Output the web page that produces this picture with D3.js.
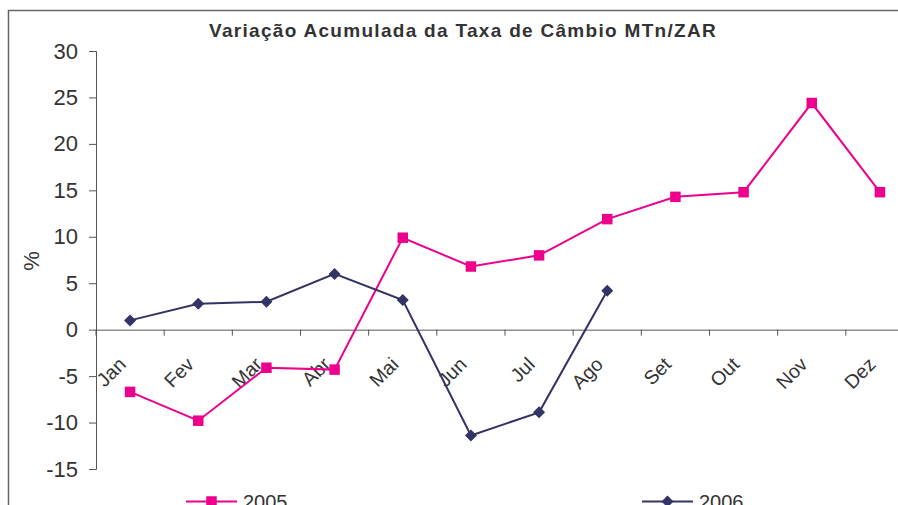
<!DOCTYPE html>
<html><head><meta charset="utf-8">
<script src="https://cdn.jsdelivr.net/npm/d3@7"></script>
<style>body{margin:0;background:#fff}svg{display:block;font-family:"Liberation Sans",Arial,sans-serif}</style>
</head><body>
<script>
const months = ["Jan","Fev","Mar","Abr","Mai","Jun","Jul","Ago","Set","Out","Nov","Dez"];
const values2005 = [-6.7,-9.8,-4.1,-4.3,9.9,6.8,8.0,11.9,14.3,14.8,24.4,14.8];
const values2006 = [1.0,2.8,3.0,6.0,3.2,-11.4,-8.9,4.2];
const yTicks = [-15,-10,-5,0,5,10,15,20,25,30];
const seriesNames = ["2005","2006"];
const title = "Variação Acumulada da Taxa de Câmbio MTn/ZAR";

(function(){
const W=898,H=505;
const svg=d3.select("body").append("svg").attr("width",W).attr("height",H);
const axisColor="#555";
const pink="#EC008C", navy="#333366";

// frame
svg.append("path").attr("d","M8.5,"+H+"V10.5H"+W).attr("fill","none").attr("stroke","#666").attr("stroke-width",1.5);

const mL=96, mR=914, mT=51, mB=469;
const x=d3.scaleBand().domain(months).range([mL,mR]).padding(0);
const y=d3.scaleLinear().domain([-15,30]).range([mB,mT]);

// y axis
const ya=svg.append("g").attr("transform",`translate(${mL},0)`)
 .call(d3.axisLeft(y).tickValues(yTicks).tickSize(7).tickPadding(11).tickFormat(d=>String(d)));
ya.select(".domain").attr("stroke",axisColor);
ya.selectAll(".tick line").attr("stroke",axisColor);
ya.selectAll("text").attr("font-size",22).attr("fill","#333");

// x axis at 0
const xa=svg.append("g").attr("transform",`translate(0,${y(0)})`)
 .call(d3.axisBottom(x).tickSize(0).tickFormat(""));
xa.select(".domain").attr("stroke",axisColor);
// category boundary ticks
svg.append("g").selectAll("line").data(months.concat(["_end"])).join("line")
 .attr("x1",(d,i)=>mL+i*x.bandwidth()).attr("x2",(d,i)=>mL+i*x.bandwidth())
 .attr("y1",y(0)).attr("y2",y(0)+6).attr("stroke",axisColor);
// rotated labels
svg.append("g").selectAll("text").data(months).join("text")
 .attr("transform",d=>`translate(${x(d)+x.bandwidth()/2-3},${y(0)+36}) rotate(-45)`)
 .attr("text-anchor","end").attr("font-size",19.5).attr("fill","#333").text(d=>d);

// y label
svg.append("text").attr("transform",`translate(39,261) rotate(-90)`).attr("text-anchor","middle")
 .attr("font-size",22).attr("fill","#333").text("%");

// title
svg.append("text").attr("x",463).attr("y",37).attr("text-anchor","middle").attr("font-weight","bold")
 .attr("font-size",19).attr("letter-spacing",1.3).attr("fill","#333").text(title);

const cx=(d,i)=>x(months[i])+x.bandwidth()/2;
const line=d3.line().x(cx).y(d=>y(d));

svg.append("path").datum(values2005).attr("d",line).attr("fill","none").attr("stroke",pink).attr("stroke-width",2);
svg.append("path").datum(values2006).attr("d",line).attr("fill","none").attr("stroke",navy).attr("stroke-width",2);

const sqPath=d3.symbol().type(d3.symbolSquare).size(110)();
const dmPath=d3.symbol().type(d3.symbolSquare).size(72)();
svg.append("g").selectAll("path").data(values2006).join("path")
 .attr("transform",(d,i)=>`translate(${cx(d,i)},${y(d)}) rotate(45)`).attr("d",dmPath).attr("fill",navy);
svg.append("g").selectAll("path").data(values2005).join("path")
 .attr("transform",(d,i)=>`translate(${cx(d,i)},${y(d)})`).attr("d",sqPath).attr("fill",pink);

// legend
const leg=[{name:seriesNames[0],x:186,c:pink,p:sqPath,r:0},{name:seriesNames[1],x:642,c:navy,p:dmPath,r:45}];
const lg=svg.append("g").selectAll("g").data(leg).join("g").attr("transform",d=>`translate(${d.x},501.5)`);
lg.append("line").attr("x1",0).attr("x2",51).attr("stroke",d=>d.c).attr("stroke-width",2);
lg.append("path").attr("transform",d=>`translate(25.5,0) rotate(${d.r})`).attr("d",d=>d.p).attr("fill",d=>d.c);
lg.append("text").attr("x",57).attr("y",7.5).attr("font-size",20).attr("fill","#333").text(d=>d.name);
})();
</script>
</body></html>
